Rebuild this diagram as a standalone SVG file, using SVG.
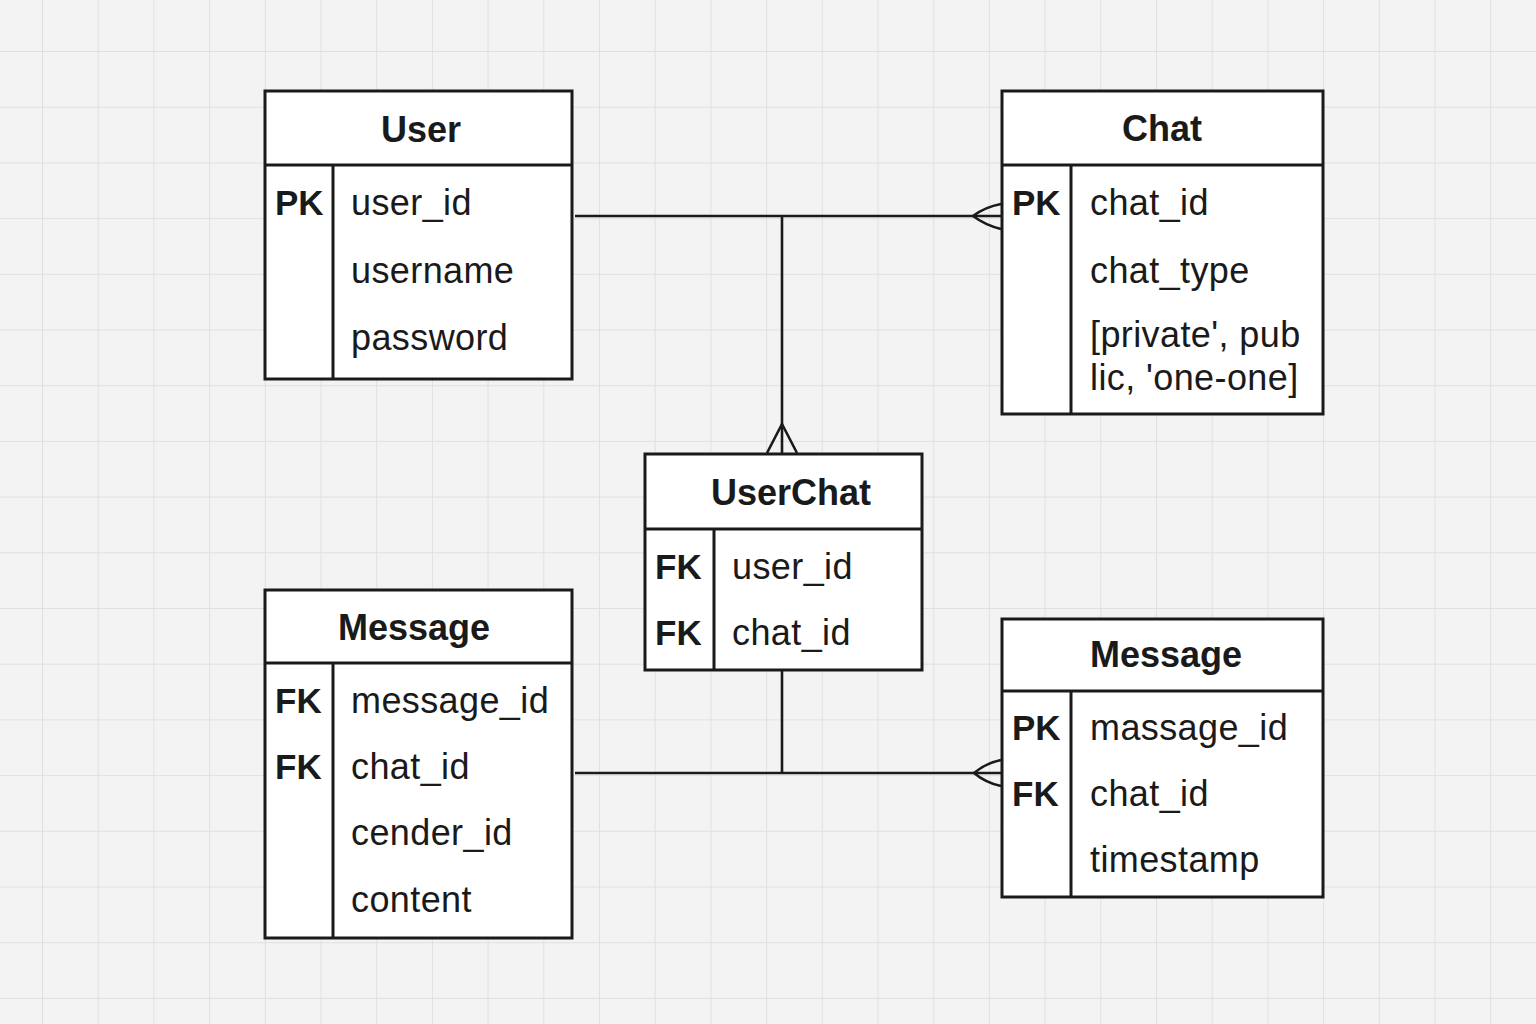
<svg xmlns="http://www.w3.org/2000/svg" width="1536" height="1024" viewBox="0 0 1536 1024">
<defs>
<pattern id="grid" patternUnits="userSpaceOnUse" x="42" y="51" width="55.7" height="55.7">
<path d="M0 0 H55.7 M0 0 V55.7" fill="none" stroke="#e0e0e0" stroke-width="2"/>
</pattern>
<style>
.box{fill:#fff;stroke:#1a1a1a;stroke-width:3}
.ln{fill:none;stroke:#1a1a1a;stroke-width:3}
.cn{fill:none;stroke:#1a1a1a;stroke-width:2.6}
.title{font-family:"Liberation Sans",Arial,sans-serif;font-weight:bold;font-size:36px;fill:#1a1a1a;text-anchor:middle}
.key{font-family:"Liberation Sans",Arial,sans-serif;font-weight:bold;font-size:35px;fill:#1a1a1a}
.attr{font-family:"Liberation Sans",Arial,sans-serif;font-size:36px;letter-spacing:0.4px;fill:#1a1a1a}
</style>
</defs>
<rect width="1536" height="1024" fill="#f3f3f3"/>
<rect width="1536" height="1024" fill="url(#grid)"/>

<g id="connectors">
<path class="cn" d="M575 216 H1001"/>
<path class="cn" d="M973 216 Q985 207 1001 204 M973 216 Q985 225 1001 229"/>
<path class="cn" d="M782 216 V453"/>
<path class="cn" d="M782 424 L767 453 M782 424 L797 453"/>
<path class="cn" d="M782 670 V773"/>
<path class="cn" d="M575 773 H1001"/>
<path class="cn" d="M974 773 Q986 763 1001 760 M974 773 Q986 783 1001 786"/>
</g>

<g id="user">
<rect class="box" x="265" y="91" width="307" height="288"/>
<path class="ln" d="M265 165 H572 M333 165 V379"/>
<text class="title" x="421" y="142">User</text>
<text class="key" x="275" y="215">PK</text>
<text class="attr" x="351" y="215">user_id</text>
<text class="attr" x="351" y="283">username</text>
<text class="attr" x="351" y="350">password</text>
</g>

<g id="chat">
<rect class="box" x="1002" y="91" width="321" height="323"/>
<path class="ln" d="M1002 165 H1323 M1071 165 V414"/>
<text class="title" x="1162" y="141">Chat</text>
<text class="key" x="1012" y="215">PK</text>
<text class="attr" x="1090" y="215">chat_id</text>
<text class="attr" x="1090" y="283">chat_type</text>
<text class="attr" x="1090" y="347">[private', pub</text>
<text class="attr" x="1090" y="390">lic, 'one-one]</text>
</g>

<g id="userchat">
<rect class="box" x="645" y="454" width="277" height="216"/>
<path class="ln" d="M645 529 H922 M714 529 V670"/>
<text class="title" x="791" y="505">UserChat</text>
<text class="key" x="655" y="579">FK</text>
<text class="attr" x="732" y="579">user_id</text>
<text class="key" x="655" y="645">FK</text>
<text class="attr" x="732" y="645">chat_id</text>
</g>

<g id="message-left">
<rect class="box" x="265" y="590" width="307" height="348"/>
<path class="ln" d="M265 663 H572 M333 663 V938"/>
<text class="title" x="414" y="640">Message</text>
<text class="key" x="275" y="713">FK</text>
<text class="attr" x="351" y="713">message_id</text>
<text class="key" x="275" y="779">FK</text>
<text class="attr" x="351" y="779">chat_id</text>
<text class="attr" x="351" y="845">cender_id</text>
<text class="attr" x="351" y="912">content</text>
</g>

<g id="message-right">
<rect class="box" x="1002" y="619" width="321" height="278"/>
<path class="ln" d="M1002 691 H1323 M1071 691 V897"/>
<text class="title" x="1166" y="667">Message</text>
<text class="key" x="1012" y="740">PK</text>
<text class="attr" x="1090" y="740">massage_id</text>
<text class="key" x="1012" y="806">FK</text>
<text class="attr" x="1090" y="806">chat_id</text>
<text class="attr" x="1090" y="872">timestamp</text>
</g>
</svg>
